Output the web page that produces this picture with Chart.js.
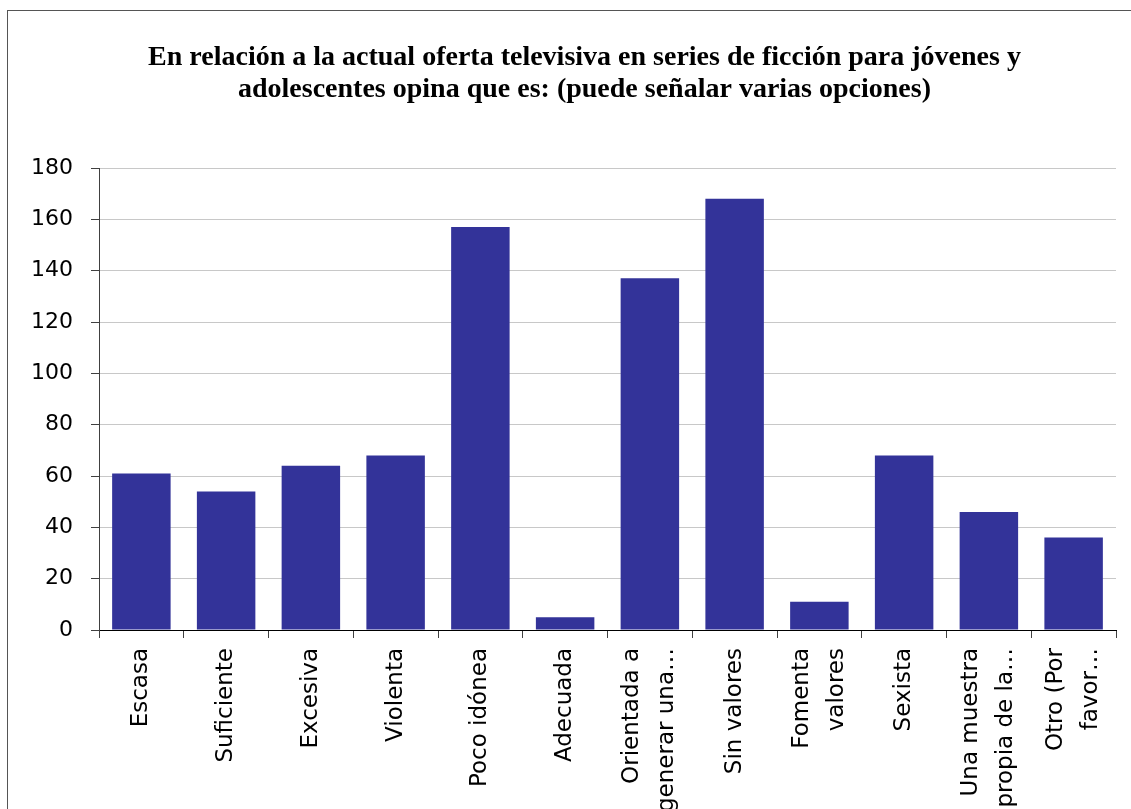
<!DOCTYPE html>
<html>
<head>
<meta charset="utf-8">
<script src="https://cdn.jsdelivr.net/npm/chart.js@4"></script>
<style>
    html, body { margin: 0; padding: 0; background: #fff; overflow: hidden; }
    #frame {
        position: absolute;
        left: 7px;
        top: 10px;
        width: 1154px;
        height: 820px;
        border: 1px solid #555;
        border-right: none;
        border-bottom: none;
        box-sizing: border-box;
    }
</style>
</head>
<body>
<div id="frame"><canvas id="chart"></canvas></div>
<script>
// Chart data
const categories = [
    'Escasa',
    'Suficiente',
    'Excesiva',
    'Violenta',
    'Poco idónea',
    'Adecuada',
    ['Orientada a', 'generar una…'],
    'Sin valores',
    ['Fomenta', 'valores'],
    'Sexista',
    ['Una muestra', 'propia de la…'],
    ['Otro (Por', 'favor…']
];
const counts = [61, 54, 64, 68, 157, 5, 137, 168, 11, 68, 46, 36];
const yTicks = [0, 20, 40, 60, 80, 100, 120, 140, 160, 180];

const titleLines = [
    'En relación a la actual oferta televisiva en series de ficción para jóvenes y',
    'adolescentes opina que es: (puede señalar varias opciones)'
];

const labelFontSize = 23;
const labelLineHeight = 35;

// Title, centred on the whole frame (the frame runs past the right edge)
const frameTitle = {
    id: 'frameTitle',
    afterDraw(chart) {
        const c = chart.ctx;
        c.save();
        c.fillStyle = '#000';
        c.font = 'bold 28px "Liberation Serif"';
        c.textAlign = 'center';
        c.textBaseline = 'middle';
        titleLines.forEach((line, i) => {
            c.fillText(line, chart.width / 2, 47 + i * 32);
        });
        c.restore();
    }
};

// Draws the rotated category labels, each block centred on its tick
const categoryLabels = {
    id: 'categoryLabels',
    afterDraw(chart) {
        const scale = chart.scales.x;
        const c = chart.ctx;
        c.save();
        c.fillStyle = '#000';
        c.font = `${labelFontSize}px "DejaVu Sans"`;
        c.textAlign = 'right';
        c.textBaseline = 'middle';
        categories.forEach((label, i) => {
            const lines = Array.isArray(label) ? label : [label];
            const x = scale.getPixelForTick(i);
            c.save();
            c.translate(x, scale.top + 18);
            c.rotate(-Math.PI / 2);
            lines.forEach((line, j) => {
                const offset = (j - (lines.length - 1) / 2) * labelLineHeight;
                c.fillText(line, 0, offset);
            });
            c.restore();
        });
        c.restore();
    }
};

const ctx = document.getElementById('chart').getContext('2d');
new Chart(ctx, {
    type: 'bar',
    data: {
        labels: categories,
        datasets: [{
            data: counts,
            backgroundColor: '#333399',
            borderWidth: 0,
            barPercentage: 0.69,
            categoryPercentage: 1.0
        }]
    },
    options: {
        responsive: true,
        maintainAspectRatio: false,
        animation: false,
        layout: {
            padding: { left: 0, right: 45, top: 157, bottom: 0 }
        },
        plugins: {
            legend: { display: false },
            tooltip: { enabled: false },
            title: { display: false }
        },
        scales: {
            x: {
                grid: {
                    drawOnChartArea: false,
                    drawTicks: true,
                    tickLength: 8,
                    tickColor: '#404040'
                },
                border: { color: '#000', width: 1 },
                ticks: { display: false },
                afterFit(scale) {
                    scale.height = 200;
                }
            },
            y: {
                min: 0,
                max: 180,
                afterBuildTicks(scale) {
                    scale.ticks = yTicks.map(v => ({ value: v }));
                },
                afterFit(scale) {
                    scale.width = 91;
                },
                grid: {
                    color: '#c8c8c8',
                    tickColor: '#404040',
                    tickLength: 8
                },
                border: { color: '#404040', width: 1 },
                ticks: {
                    padding: 18,
                    color: '#000',
                    font: { family: 'DejaVu Sans', size: 22 }
                }
            }
        }
    },
    plugins: [frameTitle, categoryLabels]
});
</script>
</body>
</html>
